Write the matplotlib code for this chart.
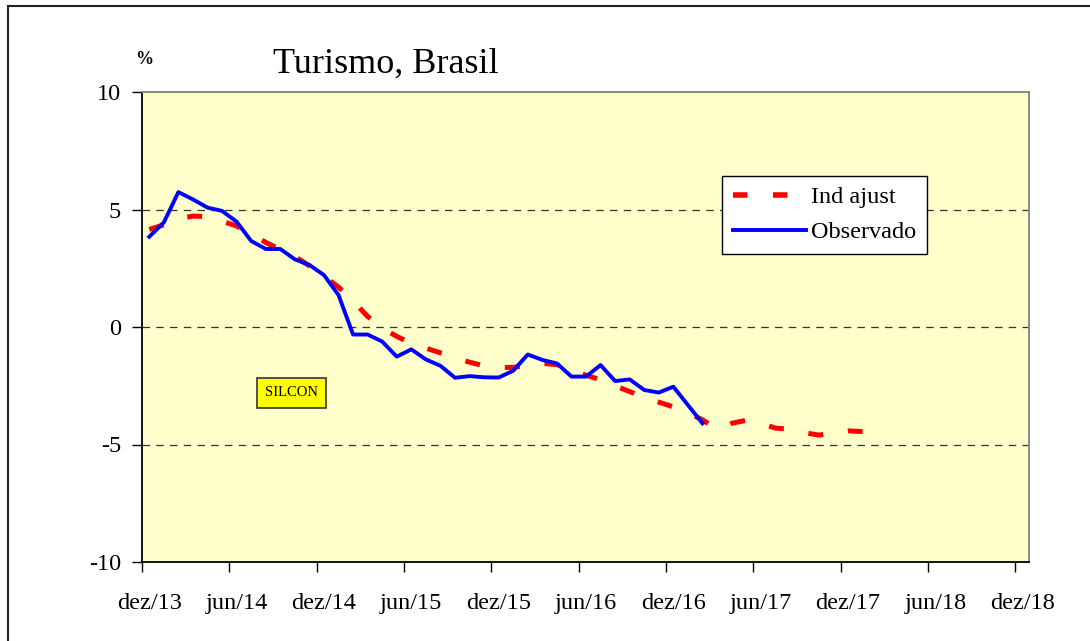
import numpy as np
import matplotlib
matplotlib.use("Agg")
import matplotlib.pyplot as plt
from matplotlib.lines import Line2D
from matplotlib.patches import Rectangle

# Serie observada (dez/13 .. fev/17), variacao %
observado = [3.84, 4.45, 5.74, 5.43, 5.08, 4.94, 4.48, 3.66, 3.32, 3.32,
             2.88, 2.64, 2.21, 1.36, -0.32, -0.32, -0.62, -1.26, -0.95, -1.38,
             -1.65, -2.16, -2.09, -2.14, -2.15, -1.86, -1.17, -1.40, -1.55, -2.11,
             -2.11, -1.62, -2.30, -2.23, -2.68, -2.79, -2.54, -3.32, -4.10]

# Indice ajustado (dez/13 .. jan/18)
ind_ajust = [4.15, 4.35, 4.60, 4.72, 4.70, 4.50, 4.30, 3.95, 3.60, 3.30,
             3.00, 2.60, 2.15, 1.70, 1.10, 0.45, -0.05, -0.40, -0.70, -0.90,
             -1.10, -1.30, -1.50, -1.65, -1.72, -1.72, -1.62, -1.55, -1.60, -1.85,
             -2.05, -2.25, -2.50, -2.75, -3.00, -3.20, -3.40, -3.65, -3.95, -4.35,
             -4.10, -3.97, -4.10, -4.30, -4.35, -4.50, -4.60, -4.50, -4.42, -4.45]

tick_labels = ["dez/13", "jun/14", "dez/14", "jun/15", "dez/15", "jun/16",
               "dez/16", "jun/17", "dez/17", "jun/18", "dez/18"]
y_ticks = [10, 5, 0, -5, -10]

font = "Liberation Serif"
fs = 17.5

W, H = 1090, 641
fig = plt.figure(figsize=(W / 100, H / 100), dpi=100)
ax = fig.add_axes([142 / W, 79 / H, 887 / W, 470 / H])
ax.set_facecolor("#FFFFCC")

# points sit in the middle of each month
x_obs = np.arange(len(observado)) + 0.5
x_ind = np.arange(len(ind_ajust)) + 0.5

ax.plot(x_ind, ind_ajust, color="red", linewidth=3.6, dashes=(3.0, 5.0),
        zorder=3)
ax.plot(x_obs, observado, color="blue", linewidth=2.8, zorder=4)

for v in [5, 0, -5]:
    ax.axhline(v, color="#333333", linewidth=0.9, dashes=(6, 5), zorder=1)

ax.set_xlim(0, 60.93)
ax.set_ylim(-10, 10)

# tick marks at each semester, labels centred on the month
ax.set_xticks(np.arange(0, 61, 6))
ax.set_xticklabels([])
ax.set_xticks(np.arange(0, 61, 6) + 0.5, minor=True)
ax.set_xticklabels(tick_labels, minor=True, fontsize=fs, family=font)
ax.tick_params(axis="x", which="minor", length=0, pad=22)
ax.tick_params(axis="x", which="major", direction="out", length=7, width=1)

ax.set_yticks(y_ticks)
ax.set_yticklabels([str(v) for v in y_ticks], fontsize=fs, family=font)
ax.tick_params(axis="y", direction="out", length=7, width=1, pad=8)

ax.spines["left"].set_color("black")
ax.spines["bottom"].set_color("black")
ax.spines["top"].set_color("#808080")
ax.spines["right"].set_color("#808080")
for s in ax.spines.values():
    s.set_linewidth(1.3)

# legend
handles = [Line2D([], [], color="red", linewidth=4, dashes=(2.6, 4.6)),
           Line2D([], [], color="blue", linewidth=2.8)]
leg = ax.legend(handles, ["Ind ajust", "Observado"], loc="upper left",
                bbox_to_anchor=((722 - 142) / 887, (562 - 176) / 470),
                prop={"family": font, "size": fs}, frameon=True, fancybox=False,
                handlelength=3.0, handletextpad=0.2, borderpad=0.45,
                labelspacing=0.55, borderaxespad=0, handleheight=0.6)
leg.get_frame().set_edgecolor("black")
leg.get_frame().set_linewidth(1.0)
leg.get_frame().set_facecolor("white")
leg.get_frame().set_alpha(1)

# titles
fig.text(386 / W, 1 - 73 / H, "Turismo, Brasil", family=font, fontsize=26,
         ha="center", va="baseline")
fig.text(144 / W, 1 - 64 / H, "%", family=font, fontsize=13,
         fontweight="bold", ha="center", va="baseline")

# SILCON tag
fig.add_artist(Rectangle((257 / W, 1 - 408 / H), 69 / W, 30 / H,
                         transform=fig.transFigure, facecolor="yellow",
                         edgecolor="#333333", linewidth=1.2, zorder=5))
fig.text(291.5 / W, 1 - 393 / H, "SILCON", fontsize=10.5, family=font,
         ha="center", va="center", zorder=6)

# outer frame
fig.add_artist(Line2D([8 / W, 8 / W], [0, 1 - 6 / H], color="#222222",
                      linewidth=1.5, transform=fig.transFigure))
fig.add_artist(Line2D([8 / W, 1], [1 - 6 / H, 1 - 6 / H], color="#222222",
                      linewidth=1.5, transform=fig.transFigure))

fig.savefig("out.png", dpi=100)
